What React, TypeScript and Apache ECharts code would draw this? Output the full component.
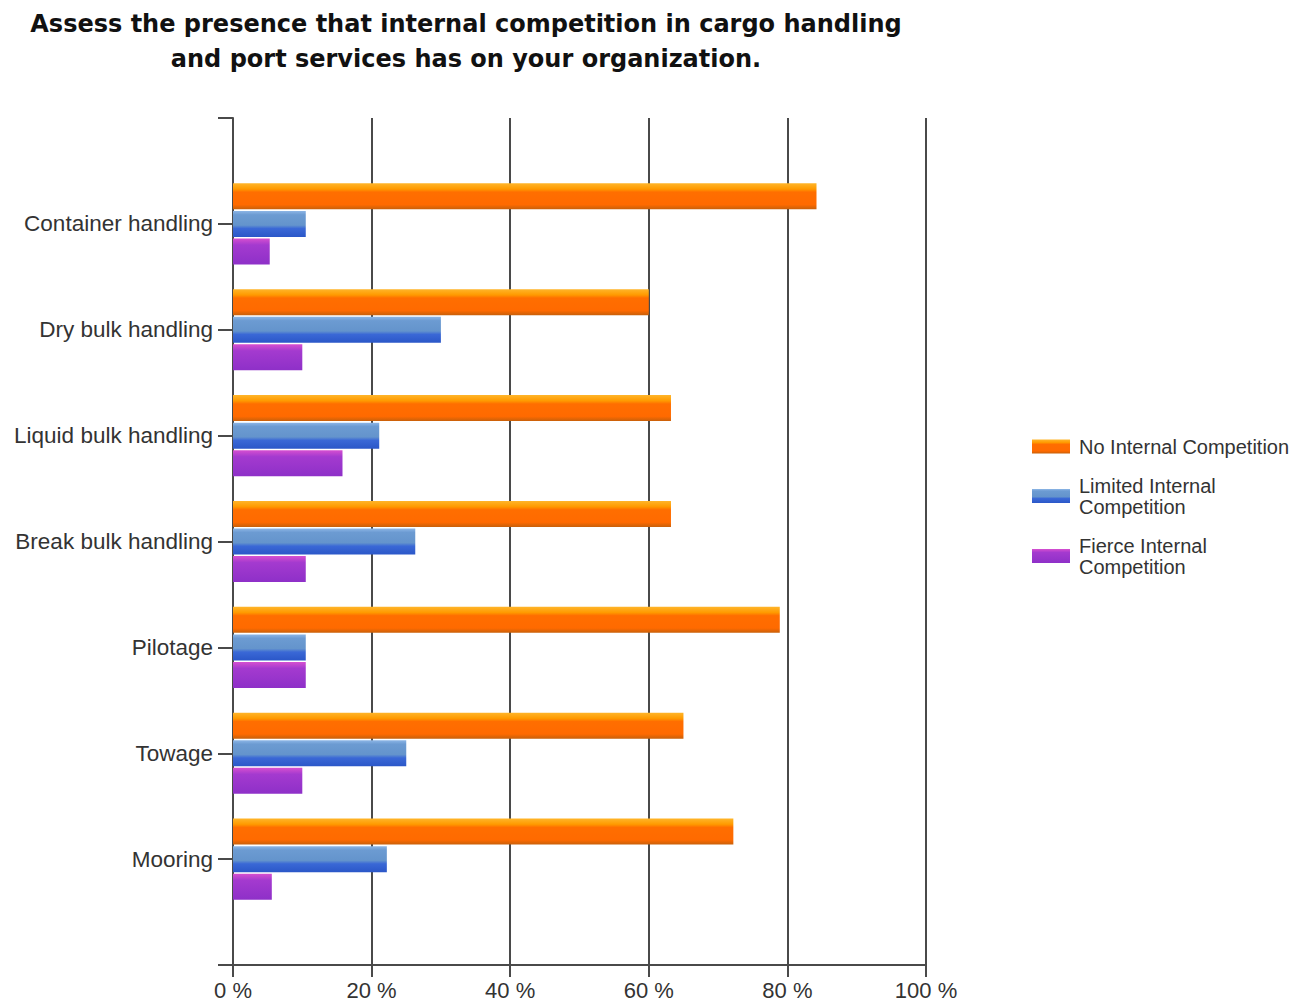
import React, { useEffect, useRef } from "react";
import * as echarts from "echarts";

const titleText = "Assess the presence that internal competition in cargo handling\nand port services has on your organization.";
const categories = [
  "Container handling",
  "Dry bulk handling",
  "Liquid bulk handling",
  "Break bulk handling",
  "Pilotage",
  "Towage",
  "Mooring",
];
const seriesNames = ["No Internal Competition", "Limited Internal Competition", "Fierce Internal Competition"];
const noInternal = [84.2, 60, 63.2, 63.2, 78.9, 65, 72.2];
const limitedInternal = [10.5, 30, 21.1, 26.3, 10.5, 25, 22.2];
const fierceInternal = [5.3, 10, 15.8, 10.5, 10.5, 10, 5.6];
const xTicks = [0, 20, 40, 60, 80, 100];

const grad = (stops: [number, string][]) =>
  new echarts.graphic.LinearGradient(0, 0, 0, 1, stops.map(([offset, color]) => ({ offset, color })));

const orangeFill = grad([
  [0, "#FFB52A"],
  [0.22, "#FF9A00"],
  [0.34, "#FF6E00"],
  [0.82, "#FF6A00"],
  [1, "#C8600A"],
]);
const blueFill = grad([
  [0, "#8DB6E6"],
  [0.15, "#6C9BD2"],
  [0.55, "#6494CC"],
  [0.68, "#3A68D6"],
  [1, "#2B57C8"],
]);
const purpleFill = grad([
  [0, "#D64FD0"],
  [0.25, "#A43ACF"],
  [1, "#8E30C8"],
]);

const pad = (arr: number[]) => [null, ...arr, null];

export default function App() {
  const ref = useRef<HTMLDivElement>(null);
  useEffect(() => {
    if (!ref.current) return;
    const chart = echarts.init(ref.current, undefined, { renderer: "svg" });
    const font = "'Liberation Sans', Arial, sans-serif";
    const axisColor = "#4a4a4a";
    chart.setOption({
      animation: false,
      backgroundColor: "#ffffff",
      textStyle: { fontFamily: font },
      title: {
        text: titleText,
        left: 461,
        top: 1,
        textAlign: "center",
        textStyle: {
          fontFamily: "'DejaVu Sans', sans-serif",
          fontWeight: "bold",
          fontSize: 24,
          lineHeight: 35,
          color: "#111111",
        },
      },
      legend: {
        orient: "vertical",
        left: 1032,
        top: 436,
        padding: 0,
        itemWidth: 38,
        itemHeight: 14,
        itemGap: 18,
        icon: "rect",
        data: seriesNames,
        formatter: (name: string) => name.replace(/^(\S+ Internal) (Competition)$/, (m, a, b) => (a === "No Internal" ? m : a + "\n" + b)),
        textStyle: { fontFamily: font, fontSize: 20, lineHeight: 21, color: "#333333", padding: [0, 0, 0, 4] },
      },
      grid: { left: 233, right: 366, top: 118, bottom: 40, containLabel: false },
      xAxis: {
        type: "value",
        min: xTicks[0],
        max: xTicks[xTicks.length - 1],
        interval: 20,
        axisLine: { show: true, lineStyle: { color: axisColor, width: 2 } },
        axisTick: { show: true, length: 12, lineStyle: { color: axisColor, width: 2 } },
        splitLine: { show: true, lineStyle: { color: axisColor, width: 2 } },
        axisLabel: { formatter: "{value} %", fontSize: 22, color: "#333333", margin: 14, fontFamily: font },
      },
      yAxis: {
        type: "category",
        inverse: true,
        boundaryGap: false,
        data: ["", ...categories, ""],
        axisLine: { show: true, lineStyle: { color: axisColor, width: 2 } },
        axisTick: { show: true, length: 15, alignWithLabel: true, lineStyle: { color: axisColor, width: 2 } },
        axisLabel: { fontSize: 22.5, color: "#333333", margin: 20, fontFamily: font, interval: 0 },
        splitLine: { show: false },
      },
      series: [
        { name: seriesNames[0], type: "bar", data: pad(noInternal), barWidth: 26, barGap: "6%", itemStyle: { color: orangeFill } },
        { name: seriesNames[1], type: "bar", data: pad(limitedInternal), barWidth: 26, barGap: "6%", itemStyle: { color: blueFill } },
        { name: seriesNames[2], type: "bar", data: pad(fierceInternal), barWidth: 26, barGap: "6%", itemStyle: { color: purpleFill } },
      ],
    });
    return () => chart.dispose();
  }, []);
  return <div ref={ref} style={{ width: 1292, height: 1005, position: "absolute", left: 0, top: 0 }} />;
}
